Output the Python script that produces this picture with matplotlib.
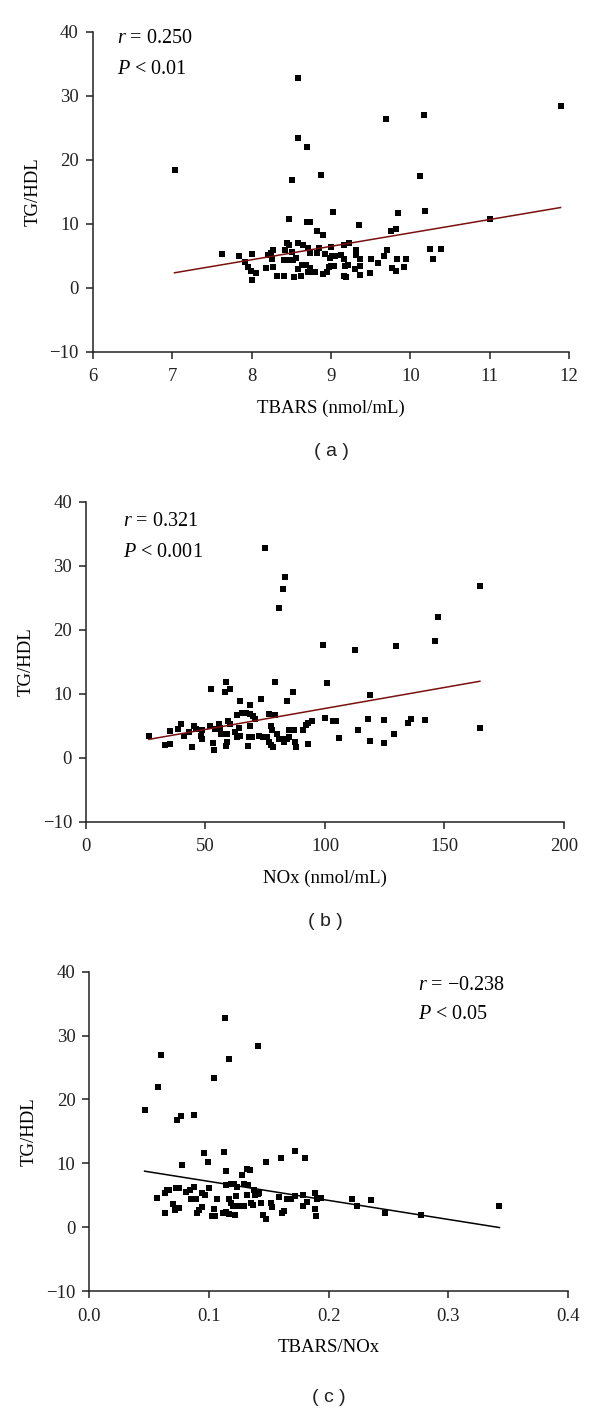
import numpy as np
import matplotlib.pyplot as plt

plt.rcParams['font.family'] = ['Liberation Serif', 'DejaVu Serif']
plt.rcParams['mathtext.fontset'] = 'custom'
plt.rcParams['mathtext.rm'] = 'Liberation Serif'
plt.rcParams['mathtext.it'] = 'Liberation Serif:italic'

# (a) TBARS vs TG/HDL
tbars = [7.03, 8.58, 9.69, 10.17, 11.89, 8.59, 8.70, 8.51, 8.87, 10.12,
         8.47, 9.03, 9.84, 10.18, 11.00, 8.70, 8.73, 9.35, 8.82, 8.90,
         9.75, 9.82, 10.25, 10.38, 10.28,
         7.63, 7.84, 8.00, 7.92, 7.95, 7.99, 8.00, 8.06, 8.18, 8.27,
         8.26, 8.27, 8.24, 8.21, 8.32, 8.41, 8.42, 8.41, 8.45, 8.45,
         8.47, 8.51, 8.54, 8.52, 8.56, 8.58, 8.62, 8.63, 8.59, 8.65,
         8.71, 8.73, 8.69, 8.71, 8.74, 8.77, 8.80, 8.82, 8.85, 8.90,
         8.92, 8.95, 8.97, 8.99, 9.00, 9.01, 9.04, 9.00, 9.05, 9.16,
         9.13, 9.17, 9.23, 9.18, 9.19, 9.16, 9.22, 9.30, 9.31, 9.32,
         9.36, 9.36, 9.37, 9.49, 9.51, 9.59, 9.67, 9.71, 9.77, 9.83,
         9.82, 9.92, 9.95]
tg_a = [18.3, 32.8, 26.4, 26.9, 28.3, 23.4, 22.0, 16.8, 17.6, 17.4,
        10.8, 11.8, 11.6, 11.9, 10.7, 10.3, 10.3, 9.8, 8.9, 8.2,
        8.9, 9.2, 6.1, 6.1, 4.4,
        5.26, 4.95, 5.26, 3.96, 3.28, 2.66, 1.25, 2.29, 3.07, 3.28,
        4.53, 5.89, 5.36, 5.10, 1.82, 1.88, 5.89, 4.32, 4.32, 6.93,
        6.72, 5.57, 1.72, 4.32, 4.58, 2.92, 1.82, 3.54, 7.03, 6.61,
        6.15, 5.36, 3.59, 2.40, 3.02, 2.50, 2.40, 5.36, 6.20, 2.14,
        5.26, 2.40, 3.28, 4.69, 6.30, 4.95, 3.33, 3.39, 4.95, 6.61,
        5.05, 4.48, 6.93, 3.39, 1.61, 1.88, 3.54, 2.86, 5.05, 5.89,
        4.43, 3.39, 2.03, 2.34, 4.53, 3.80, 4.90, 5.94, 3.13, 4.43,
        2.66, 3.28, 4.43]
fit_a = (2.097, -12.42)  # slope, intercept

# (b) NOx vs TG/HDL
nox = [74.7, 83.4, 82.3, 80.9, 164.8, 147.2, 146.2, 99.2, 112.7, 129.7,
       52.1, 58.5, 58.0, 60.2, 79.2, 100.7, 118.7, 86.6, 83.9, 73.2,
       64.5, 68.6, 164.8, 100.1, 104.5, 103.5, 114.0, 105.7, 118.2, 118.7,
       124.7, 124.7, 128.8, 134.8, 135.8, 141.8,
       26.3, 33.2, 35.2, 35.2, 38.4, 39.8, 41.2, 43.0, 44.4, 45.1,
       45.9, 48.2, 48.5, 48.6, 51.7, 53.2, 53.5, 53.8, 55.7, 56.0,
       56.7, 58.4, 58.9, 59.1, 59.6, 60.2, 62.2, 63.1, 63.1, 65.4,
       66.9, 68.6, 64.1, 64.5, 67.7, 68.6, 68.0, 69.3, 70.0, 70.7,
       72.5, 73.9, 75.7, 76.4, 77.5, 77.7, 76.7, 77.5, 78.1, 79.2,
       80.0, 80.9, 82.4, 83.0, 84.2, 85.0, 84.8, 87.0, 87.3, 87.8,
       90.8, 91.9, 92.7, 94.7, 92.9]
tg_b = [32.8, 28.3, 26.4, 23.4, 26.9, 22.0, 18.3, 17.6, 16.8, 17.4,
        10.8, 11.9, 10.3, 10.8, 11.8, 11.6, 9.8, 10.2, 8.9, 9.2,
        8.9, 8.2, 4.6, 6.25, 5.7, 5.7, 4.4, 3.1, 6.1, 2.66,
        5.9, 2.24, 3.65, 5.47, 6.04, 5.94,
        3.4, 2.0, 2.14, 4.2, 4.5, 5.2, 3.4, 4.0, 1.7, 4.9,
        4.5, 3.4, 2.9, 4.4, 4.95, 2.24, 1.25, 4.5, 5.2, 4.6,
        3.75, 1.9, 3.75, 2.5, 5.8, 5.2, 4.0, 3.3, 6.6, 7.0,
        7.0, 6.8, 4.7, 3.4, 1.9, 5.0, 3.3, 3.2, 6.5, 6.1,
        3.4, 3.3, 3.2, 6.8, 5.0, 4.4, 2.4, 2.0, 1.7, 6.6,
        3.75, 2.9, 3.0, 2.45, 3.0, 3.2, 4.4, 4.4, 2.4, 1.6,
        4.4, 5.1, 5.5, 5.8, 2.2]
fit_b = (0.06556, 1.143)

# (c) TBARS/NOx vs TG/HDL
ratio = [0.1134, 0.1407, 0.0602, 0.1164, 0.1042, 0.0574, 0.0462, 0.0733, 0.0766, 0.0875,
         0.0961, 0.1123, 0.1716, 0.1604, 0.1805, 0.1476, 0.0994, 0.0774, 0.1145, 0.1276,
         0.1318, 0.1343, 0.3429, 0.2777, 0.2476, 0.2354, 0.2198, 0.2237,
         0.0563, 0.0635, 0.0652, 0.0669, 0.0635, 0.0702, 0.0719, 0.0749, 0.0724, 0.0747,
         0.0805, 0.0844, 0.0877, 0.0850, 0.0889, 0.0903, 0.0919, 0.0944, 0.0942, 0.0964,
         0.1003, 0.1028, 0.1050, 0.1045, 0.1067, 0.1114, 0.1142, 0.1164, 0.1139, 0.1164,
         0.1184, 0.1203, 0.1240, 0.1184, 0.1212, 0.1234, 0.1223, 0.1220, 0.1295, 0.1290,
         0.1323, 0.1315, 0.1351, 0.1370, 0.1373, 0.1390, 0.1407, 0.1418, 0.1384, 0.1435,
         0.1454, 0.1474, 0.1515, 0.1524, 0.1585, 0.1607, 0.1627, 0.1655, 0.1685, 0.1716,
         0.1788, 0.1816, 0.1788, 0.1883, 0.1903, 0.1933, 0.1889, 0.1897]
tg_c = [32.8, 28.3, 27.0, 26.4, 23.4, 22.0, 18.3, 16.8, 17.4, 17.6,
        11.6, 11.8, 11.9, 10.8, 10.8, 10.3, 10.2, 9.8, 8.85, 8.2,
        9.2, 8.9, 3.4, 2.0, 2.2, 4.2, 4.5, 3.4,
        4.6, 5.4, 5.9, 5.9, 2.3, 3.65, 2.7, 3.1, 6.15, 6.15,
        5.6, 5.9, 6.25, 4.5, 4.4, 2.3, 2.7, 3.2, 5.3, 5.1,
        6.15, 1.7, 1.8, 2.9, 4.4, 2.3, 2.4, 2.1, 6.7, 4.4,
        3.75, 3.3, 3.3, 6.8, 6.8, 6.25, 4.95, 1.9, 3.3, 6.8,
        6.6, 5.05, 3.85, 3.5, 5.8, 5.4, 5.2, 5.3, 5.05, 3.8,
        1.9, 1.3, 3.75, 3.2, 4.7, 2.3, 2.55, 4.5, 4.5, 4.95,
        3.4, 3.95, 5.0, 5.3, 4.5, 4.6, 2.8, 1.7]
fit_c = (-29.72, 10.16)

panels = [
    dict(x=tbars, y=tg_a, fit=fit_a, color='#7a1010', xlim=(6, 12),
         xticks=[6, 7, 8, 9, 10, 11, 12], fmt='{:.0f}', xlabel='TBARS (nmol/mL)',
         r='0.250', p='0.01', txt=(0.050, 0.978, 0.883), tag='( a )',
         rect=[0.1545, 0.7506, 0.7943, 0.2270], tagy=452),
    dict(x=nox, y=tg_b, fit=fit_b, color='#7a1010', xlim=(0, 200),
         xticks=[0, 50, 100, 150, 200], fmt='{:.0f}', xlabel='NOx (nmol/mL)',
         r='0.321', p='0.001', txt=(0.077, 0.9375, 0.842), tag='( b )',
         rect=[0.1433, 0.4172, 0.7967, 0.2270], tagy=922),
    dict(x=ratio, y=tg_c, fit=fit_c, color='black', xlim=(0, 0.4),
         xticks=[0.0, 0.1, 0.2, 0.3, 0.4], fmt='{:.1f}', xlabel='TBARS/NOx',
         r='\u22120.238', p='0.05', txt=(0.686, 0.958, 0.8645), tag='( c )',
         rect=[0.1489, 0.0842, 0.7973, 0.2267], tagy=1397),
]

fig = plt.figure(figsize=(6, 14.1), dpi=100)

for pn in panels:
    ax = fig.add_axes(pn['rect'])
    ax.plot(pn['x'], pn['y'], 's', color='black', markersize=3.9, markeredgewidth=0)
    xs = np.array([min(pn['x']), max(pn['x'])])
    ax.plot(xs, pn['fit'][0] * xs + pn['fit'][1], color=pn['color'], lw=1.1)

    ax.set_xlim(*pn['xlim'])
    ax.set_ylim(-10, 40)
    ax.set_xticks(pn['xticks'])
    ax.set_xticklabels([pn['fmt'].format(v) for v in pn['xticks']])
    ax.set_yticks([-10, 0, 10, 20, 30, 40])
    ax.set_yticklabels(['\u221210', '0', '10', '20', '30', '40'])
    for s in ['top', 'right']:
        ax.spines[s].set_visible(False)
    for s in ['left', 'bottom']:
        ax.spines[s].set_linewidth(1.1)
        ax.spines[s].set_color('#222222')
    ax.tick_params(direction='out', length=5, width=1.1, labelsize=13.5, colors='#222222')
    ax.tick_params(axis='x', pad=7)
    ax.tick_params(axis='y', pad=5)

    ax.set_xlabel(pn['xlabel'], fontsize=13.5, labelpad=10)
    ax.set_ylabel('TG/HDL', fontsize=13.5)
    ax.yaxis.set_label_coords(-0.108, 0.5)

    tx, ry, py = pn['txt']
    ax.text(tx, ry, '$r$ = ' + pn['r'], transform=ax.transAxes, fontsize=14.5, va='center')
    ax.text(tx, py, '$P$ < ' + pn['p'], transform=ax.transAxes, fontsize=14.5, va='center')

    cx = pn['rect'][0] + pn['rect'][2] / 2
    fig.text(cx, 1 - pn['tagy'] / 1410, pn['tag'], ha='center', va='center',
             fontsize=14, family=['Liberation Sans', 'DejaVu Sans'], color='#222222')

fig.savefig('out.png', dpi=100)
